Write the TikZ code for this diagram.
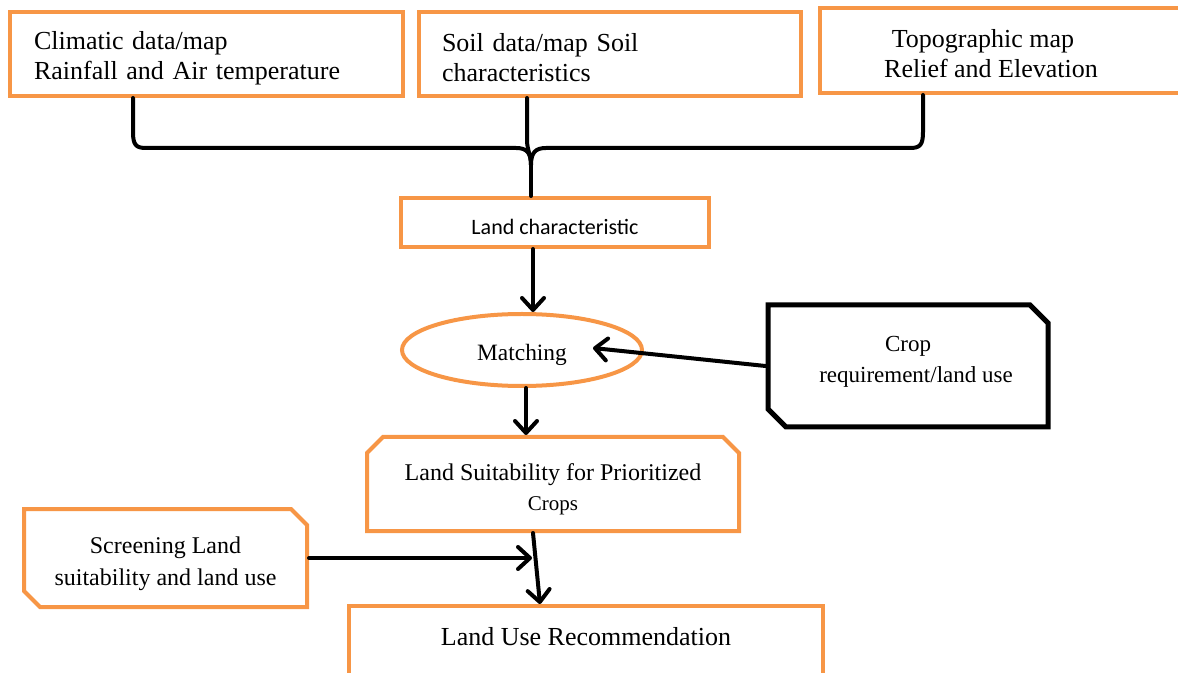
\documentclass[tikz,border=0pt]{standalone}
\usepackage{fontspec}
\setmainfont{Liberation Serif}
\newfontfamily\calib{Carlito}
\usetikzlibrary{arrows.meta,shapes.geometric,shapes.misc}
\definecolor{boxorange}{HTML}{F79646}
\tikzset{
  obox/.style={draw=boxorange, line width=2pt, fill=white, inner sep=0pt},
  kbox/.style={draw=black, line width=2.5pt, fill=white, inner sep=0pt},
  chamf/.style={chamfered rectangle, chamfered rectangle xsep=#1, chamfered rectangle ysep=#1},
  arr/.style={line width=2pt, line cap=round,
    -{Straight Barb[length=6pt,width=11pt,line cap=round,line join=round]}},
  bracket/.style={line width=2pt, line cap=round, line join=round},
  txt/.style={inner sep=0pt, align=center}
}
\begin{document}
\begin{tikzpicture}[x=0.5pt,y=-0.5pt]
\useasboundingbox (0,0) rectangle (1178,673);
\clip (0,0) rectangle (1178,673);

% data sources
\node[obox, minimum width=196.5pt, minimum height=42pt, text width=172.5pt,
      inner xsep=12pt, align=left, font=\fontsize{13}{15}\selectfont]
  (clim) at (206.5,54) {\\[-2pt]Climatic data/map\\Rainfall and Air temperature};
\node[obox, minimum width=191pt, minimum height=42pt, text width=168pt,
      inner xsep=11.5pt, align=left, font=\fontsize{13}{15}\selectfont]
  (soil) at (610,54) {\\[-2pt]Soil data/map Soil\\characteristics};
\node[obox, minimum width=182pt, minimum height=42.5pt]
  (topo) at (1001.5,50.5) {};
\node[txt, font=\fontsize{13}{15}\selectfont] (topotxt) at (991,54)
  {\hspace*{-8pt}Topographic map\\Relief and Elevation};

% joining bracket
\draw[bracket] (clim.south -| 133,0) -- (133,132)
  .. controls (133,145) and (136,148) .. (146,148) -- (516,148)
  .. controls (526,148) and (531,152) .. (531,165);
\draw[bracket] (topo.south -| 923,0) -- (923,132)
  .. controls (923,145) and (920,148) .. (910,148) -- (546,148)
  .. controls (536,148) and (531,152) .. (531,165);
\draw[bracket] (soil.south -| 527,0) -- (527,140)
  .. controls (527,150) and (531,155) .. (531,165);

% land characteristic
\node[obox, minimum width=154pt, minimum height=24.5pt, font=\calib\fontsize{11}{13}\selectfont]
  (lc) at (555,222.5) {\raisebox{-6pt}[0pt][0pt]{Land characteristic}};
\draw[bracket] (531,165) -- (lc.north -| 531,0);

% matching
\node[obox, ellipse, minimum width=120pt, minimum height=36pt,
      font=\fontsize{11.7}{14}\selectfont]
  (match) at (522,350) {\raisebox{-5.5pt}[0pt][0pt]{Matching}};
\draw[arr] (lc.south -| 533,0) -- (match.north -| 533,0);

% crop requirement
\node[kbox, chamf=4.5pt, chamfered rectangle corners={north east,south west},
      minimum width=140pt, minimum height=61pt, align=center,
      font=\fontsize{11.5}{15.5}\selectfont]
  (crop) at (908,366) {Crop\\\hspace*{8pt}requirement/land use\\[-9pt]};
\coordinate (mtip) at (593,348);
\draw[arr] (crop.west) -- (mtip);

% land suitability
\node[obox, chamf=4pt, chamfered rectangle corners={north east,north west},
      minimum width=186pt, minimum height=47pt, align=center,
      font=\fontsize{12}{15}\selectfont]
  (suit) at (553,484) {\\[-1pt]Land Suitability for Prioritized\\{\fontsize{10.5}{15}\selectfont Crops}};
\draw[arr] (match.south -| 526,0) -- (suit.north -| 526,0);

% screening
\node[obox, chamf=4pt, chamfered rectangle corners={north east,south west},
      minimum width=141.5pt, minimum height=49pt, align=center,
      font=\fontsize{12}{16}\selectfont]
  (scr) at (165.5,558) {\\[-2pt]Screening Land\\suitability and land use};
\coordinate (join) at (532,558);
\draw[arr] (scr.east) -- (join);

% recommendation
\node[obox, minimum width=237pt, minimum height=40pt] (rec) at (586,646) {};
\node[txt, font=\fontsize{13}{15}\selectfont] (rectxt) at (586,637) {Land Use Recommendation};
\draw[arr] (suit.south -| 533,0) -- (rec.north -| 540,0);
\end{tikzpicture}
\end{document}
